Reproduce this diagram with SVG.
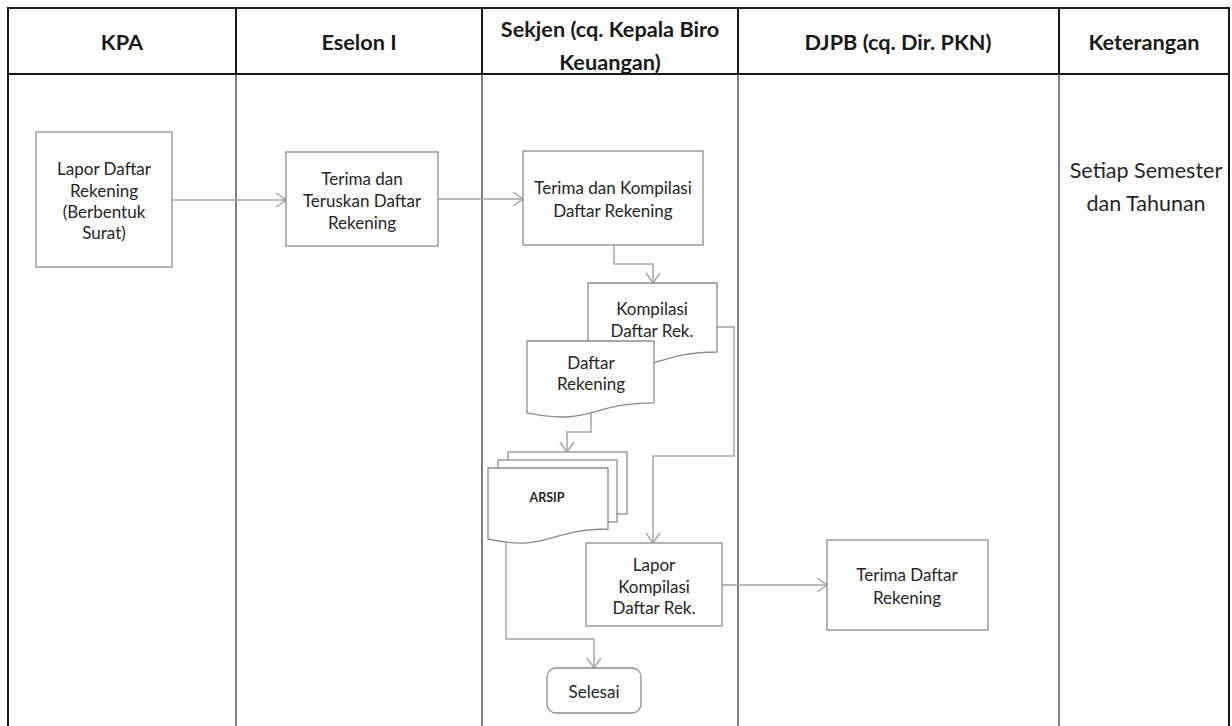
<svg xmlns="http://www.w3.org/2000/svg" width="1232" height="726" viewBox="0 0 1232 726">
<defs>
<style>
.hdr{font-family:Lato,"Liberation Sans",sans-serif;font-weight:bold;font-size:21.7px;fill:#1a1a1a;text-anchor:middle;dominant-baseline:central}
.t{font-family:Lato,"Liberation Sans",sans-serif;font-size:17px;fill:#262626;text-anchor:middle;dominant-baseline:central}
.big{font-family:Lato,"Liberation Sans",sans-serif;font-size:21.5px;fill:#262626;text-anchor:middle;dominant-baseline:central}
.small{font-family:Lato,"Liberation Sans",sans-serif;font-size:12.5px;font-weight:bold;fill:#262626;text-anchor:middle;dominant-baseline:central}
.box{fill:#fff;stroke:#8c8c8c;stroke-width:1.3}
.grid{stroke:#1a1a1a;stroke-width:2;fill:none}
.lane{stroke:#4d4d4d;stroke-width:1.4;fill:none}
.conn{stroke:#a6a6a6;stroke-width:1.5;fill:none;marker-end:url(#arr)}
</style>
<marker id="arr" viewBox="0 0 12 16" refX="11" refY="8" markerWidth="12" markerHeight="16" markerUnits="userSpaceOnUse" orient="auto">
<path d="M1,1 L11,8 L1,15" fill="none" stroke="#a6a6a6" stroke-width="1.4"/>
</marker>
</defs>
<rect width="1232" height="726" fill="#fff"/>
<g id="table">
<path class="grid" d="M8,726 V8 H1229 V726 M8,74 H1229"/>
<path class="grid" d="M236,8 V74 M482,8 V74 M738,8 V74 M1059,8 V74"/>
<path class="lane" d="M236,74 V726 M482,74 V726 M738,74 V726 M1059,74 V726"/>
<text class="hdr" x="122" y="42">KPA</text>
<text class="hdr" x="359" y="42">Eselon I</text>
<text class="hdr" x="610" y="29">Sekjen (cq. Kepala Biro</text>
<text class="hdr" x="610" y="62">Keuangan)</text>
<text class="hdr" x="898" y="42">DJPB (cq. Dir. PKN)</text>
<text class="hdr" x="1144" y="42">Keterangan</text>
</g>
<g id="connectors">
<path class="conn" d="M172,200 H286"/>
<path class="conn" d="M438,199 H523"/>
<path class="conn" d="M614,245 V264 H653 V283"/>
<path class="conn" d="M591,413 V432 H567 V452"/>
<path class="conn" d="M717,327 H734 V456 H653 V543"/>
<path class="conn" d="M506,540 V639 H594 V668"/>
<path class="conn" d="M722,585 H827"/>
</g>
<g id="lapor-daftar">
<rect class="box" x="36" y="132" width="136" height="135"/>
<text class="t" x="104" y="168">Lapor Daftar</text>
<text class="t" x="104" y="190">Rekening</text>
<text class="t" x="104" y="211">(Berbentuk</text>
<text class="t" x="104" y="232">Surat)</text>
</g>
<g id="terima-teruskan">
<rect class="box" x="286" y="152" width="152" height="94"/>
<text class="t" x="362" y="178">Terima dan</text>
<text class="t" x="362" y="200">Teruskan Daftar</text>
<text class="t" x="362" y="222">Rekening</text>
</g>
<g id="terima-kompilasi">
<rect class="box" x="523" y="151" width="180" height="94"/>
<text class="t" x="613" y="187">Terima  dan Kompilasi</text>
<text class="t" x="613" y="210">Daftar Rekening</text>
</g>
<g id="kompilasi-doc">
<path class="box" d="M588,283 H717 V352 C652.5,352 652.5,378.2 588,363.3 Z"/>
<text class="t" x="652" y="308">Kompilasi</text>
<text class="t" x="652" y="330">Daftar Rek.</text>
</g>
<g id="daftar-rekening-doc">
<path class="box" d="M527,341 H654 V402.8 C590.5,402.8 590.5,426.3 527,412.9 Z"/>
<text class="t" x="591" y="362">Daftar</text>
<text class="t" x="591" y="383">Rekening</text>
</g>
<g id="arsip">
<rect class="box" x="508" y="452" width="119" height="62"/>
<rect class="box" x="498" y="460" width="119" height="62"/>
<path class="box" d="M488,468 H608 V529 C548,529 548,552.2 488,539 Z"/>
<text class="small" x="547" y="497">ARSIP</text>
</g>
<g id="lapor-kompilasi">
<rect class="box" x="586" y="543" width="136" height="83"/>
<text class="t" x="654" y="564">Lapor</text>
<text class="t" x="654" y="586">Kompilasi</text>
<text class="t" x="654" y="607">Daftar Rek.</text>
</g>
<g id="selesai">
<rect class="box" x="547" y="668" width="94" height="45" rx="9"/>
<text class="t" x="594" y="691">Selesai</text>
</g>
<g id="terima-daftar">
<rect class="box" x="827" y="540" width="161" height="90"/>
<text class="t" x="907" y="574">Terima Daftar</text>
<text class="t" x="907" y="597">Rekening</text>
</g>
<g id="keterangan">
<text class="big" x="1146" y="170">Setiap Semester</text>
<text class="big" x="1146" y="203">dan Tahunan</text>
</g>
</svg>
